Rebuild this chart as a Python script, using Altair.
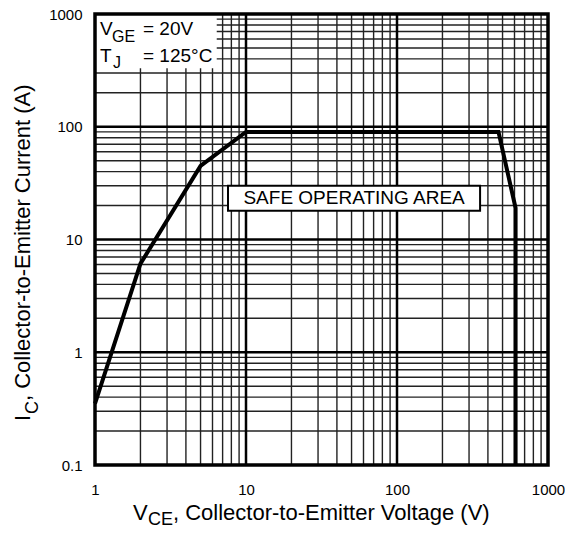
import altair as alt
import pandas as pd

# ---- data ----
vce = [1, 2, 5, 10, 470, 610, 610]
ic = [0.35, 6.1, 45, 90, 90, 19, 0.1]

x_ticks = [1, 10, 100, 1000]
y_ticks = [0.1, 1, 10, 100, 1000]
x_decades = [1, 10, 100]
y_decades = [0.1, 1, 10, 100]
mults = [2, 3, 4, 5, 6, 7, 8, 9]
x_major = [10, 100]
y_major = [1, 10, 100]

minor_x = [m * d for d in x_decades for m in mults]
minor_y = [round(m * d, 6) for d in y_decades for m in mults]

W, H = 453, 451
FONT = "Liberation Sans"

xs = alt.Scale(type="log", domain=[1, 1000], nice=False)
ys = alt.Scale(type="log", domain=[0.1, 1000], nice=False)

xaxis = alt.Axis(values=x_ticks, format="~g", title=None, grid=False, ticks=False,
                 domain=False, labelFontSize=15, labelColor="black", labelPadding=17,
                 labelFont=FONT, labelFlush=False, labelOverlap=False)
yaxis = alt.Axis(values=y_ticks, format="~g", title=None, grid=False, ticks=False,
                 domain=False, labelFontSize=15, labelColor="black", labelPadding=13,
                 labelFont=FONT, labelFlush=False, labelOverlap=False)


def X(f):
    return alt.X(f, scale=xs, axis=xaxis)


def Y(f):
    return alt.Y(f, scale=ys, axis=yaxis)


vmin = alt.Chart(pd.DataFrame({"v": minor_x})).mark_rule(color="#222", strokeWidth=1.4).encode(
    x=X("v:Q"))
hmin = alt.Chart(pd.DataFrame({"v": minor_y})).mark_rule(color="#222", strokeWidth=1.4).encode(
    y=Y("v:Q"))
vmaj = alt.Chart(pd.DataFrame({"v": x_major})).mark_rule(color="black", strokeWidth=2.5).encode(
    x=X("v:Q"))
hmaj = alt.Chart(pd.DataFrame({"v": y_major})).mark_rule(color="black", strokeWidth=2.5).encode(
    y=Y("v:Q"))

legend_box = alt.Chart(pd.DataFrame({"x1": [1], "x2": [6.4], "y1": [330], "y2": [1000]})).mark_rect(
    fill="white").encode(
    x=X("x1:Q"), x2="x2:Q", y=Y("y1:Q"), y2="y2:Q")

curve = alt.Chart(pd.DataFrame({"vce": vce, "ic": ic, "o": list(range(len(vce)))})).mark_line(
    color="black", strokeWidth=4, strokeJoin="miter").encode(
    x=X("vce:Q"), y=Y("ic:Q"), order="o:Q")

soa_box = alt.Chart(pd.DataFrame({"x1": [7.6], "x2": [355], "y1": [18], "y2": [30]})).mark_rect(
    fill="white", stroke="black", strokeWidth=2).encode(
    x=X("x1:Q"), x2="x2:Q", y=Y("y1:Q"), y2="y2:Q")

soa_text = alt.Chart(pd.DataFrame({"x": [52], "y": [23.3], "t": ["SAFE OPERATING AREA"]})).mark_text(
    font=FONT, fontSize=19, color="black", baseline="middle", align="center").encode(
    x=X("x:Q"), y=Y("y:Q"), text="t:N")

one = pd.DataFrame({"a": [0]})


def txt(s, x, y, size, angle=0):
    kw = dict(text=s, font=FONT, fontSize=size, color="black", align="left", baseline="alphabetic")
    if angle:
        kw["angle"] = angle
    return alt.Chart(one).mark_text(**kw).encode(x=alt.value(x), y=alt.value(y))


texts = [
    # legend
    txt("V", 5, 21, 19), txt("GE", 17, 28, 16), txt("= 20V", 48, 21, 19),
    txt("T", 5, 48, 19), txt("J", 18, 54, 16), txt("= 125°C", 48, 48, 19),
    # x title
    txt("V", 38, 506, 22), txt("CE", 53, 511, 18), txt(" , Collector-to-Emitter Voltage (V)", 78, 506, 22),
    # y title
    txt("I", -65, 407, 22, 270), txt("C", -57, 400, 18, 270),
    txt(", Collector-to-Emitter Current (A)", -65, 387, 22, 270),
]

frame = alt.Chart(pd.DataFrame({"x1": [1], "x2": [1000], "y1": [0.1], "y2": [1000]})).mark_rect(
    fill=None, stroke="black", strokeWidth=3.5).encode(
    x=X("x1:Q"), x2="x2:Q", y=Y("y1:Q"), y2="y2:Q")

chart = alt.layer(vmin, hmin, vmaj, hmaj, legend_box, curve, soa_box, soa_text, *texts, frame).properties(
    width=W, height=H,
    autosize=alt.AutoSizeParams(type="none"),
    padding={"left": 87, "top": 6, "right": 17, "bottom": 63},
).configure_view(stroke=None).configure(background="white")

chart.save("out.html", embed_options={"renderer": "svg", "actions": False})
